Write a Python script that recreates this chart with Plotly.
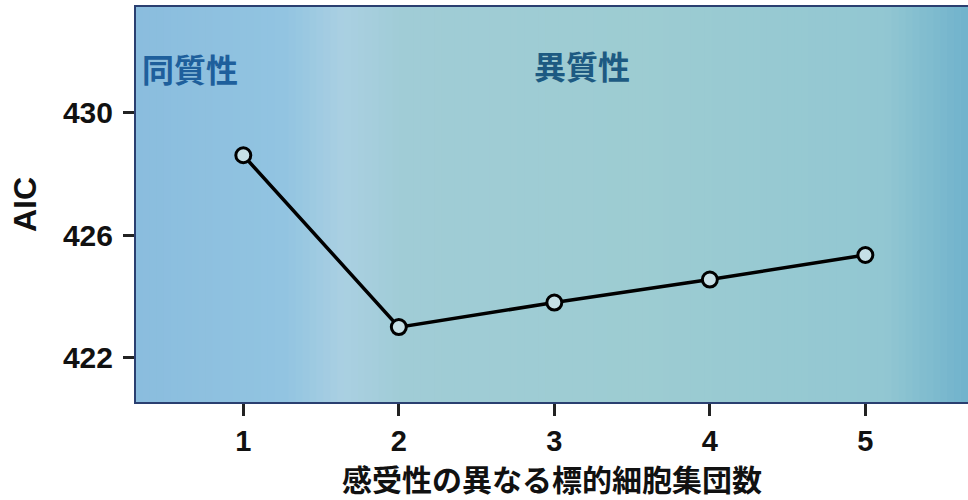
import plotly.graph_objects as go

# ---- data ----
groups = [1, 2, 3, 4, 5]
aic = [428.6, 423.0, 423.8, 424.55, 425.35]
x_ticks = [1, 2, 3, 4, 5]
y_ticks = [422, 426, 430]
x_title = "感受性の異なる標的細胞集団数"
y_title = "AIC"
label_homo = "同質性"
label_hetero = "異質性"

# ---- background gradient (decoration) ----
stops = [
    (0.00, (138, 189, 222)),
    (0.18, (146, 196, 225)),
    (0.25, (170, 208, 226)),
    (0.32, (160, 204, 214)),
    (0.60, (157, 204, 210)),
    (0.90, (146, 199, 210)),
    (1.00, (112, 178, 204)),
]

def col_at(t):
    for (a, ca), (b, cb) in zip(stops[:-1], stops[1:]):
        if a <= t <= b:
            f = (t - a) / (b - a) if b > a else 0
            c = [round(ca[i] + (cb[i] - ca[i]) * f) for i in range(3)]
            return "rgb(%d,%d,%d)" % tuple(c)
    return "rgb(%d,%d,%d)" % stops[-1][1]

n_strips = 120
shapes = []
for i in range(n_strips):
    x0 = i / n_strips
    x1 = (i + 1) / n_strips + 0.002
    shapes.append(dict(type="rect", xref="x domain", yref="y domain",
                       x0=x0, x1=min(x1, 1), y0=0, y1=1,
                       fillcolor=col_at((i + 0.5) / n_strips),
                       line=dict(width=0), layer="below"))

fig = go.Figure()
fig.add_trace(go.Scatter(
    x=groups, y=aic, mode="lines+markers",
    line=dict(color="black", width=3.5),
    marker=dict(symbol="circle", size=15, color="#c6e0e6",
                line=dict(color="black", width=3)),
    showlegend=False, cliponaxis=False,
))

tick_font = dict(family="Liberation Sans, Arial, sans-serif", size=29,
                 color="#111", weight="bold")
fig.update_layout(
    width=968, height=500,
    margin=dict(l=136, r=0, t=7, b=98),
    paper_bgcolor="white", plot_bgcolor="rgba(0,0,0,0)",
    shapes=shapes,
    xaxis=dict(range=[0.31, 5.66], tickvals=x_ticks, ticks="outside",
               ticklen=12, tickwidth=2.5, tickcolor="#222",
               showline=True, linecolor="#2a3f70", linewidth=2, mirror=True,
               showgrid=False, zeroline=False, tickfont=tick_font,
               title=dict(text=x_title, standoff=15,
                          font=dict(family="Noto Sans CJK JP", size=30,
                                    color="#111", weight="bold"))),
    yaxis=dict(range=[420.56, 433.43], tickvals=y_ticks, ticks="outside",
               ticklen=11, tickwidth=2.5, tickcolor="#222",
               showline=True, linecolor="#2a3f70", linewidth=2,
               showgrid=False, zeroline=False,
               tickfont=dict(family="Liberation Sans, Arial, sans-serif", size=30,
                             color="#111", weight="bold"),
               ticklabelstandoff=4,
               title=dict(text=y_title, standoff=17,
                          font=dict(family="Liberation Sans, Arial, sans-serif",
                                    size=32, color="#111", weight="bold"))),
    annotations=[
        dict(text=label_homo, xref="x domain", yref="y domain", x=0.005, y=0.845,
             xanchor="left", yanchor="middle", showarrow=False,
             font=dict(family="Noto Sans CJK JP", size=32, color="#1e5f9c",
                       weight="bold")),
        dict(text=label_hetero, xref="x domain", yref="y domain", x=0.536, y=0.852,
             xanchor="center", yanchor="middle", showarrow=False,
             font=dict(family="Noto Sans CJK JP", size=32, color="#1d5a82",
                       weight="bold")),
    ],
)

fig.write_html("out.html", config={"displayModeBar": False},
               post_script="document.body.style.margin='0';")
